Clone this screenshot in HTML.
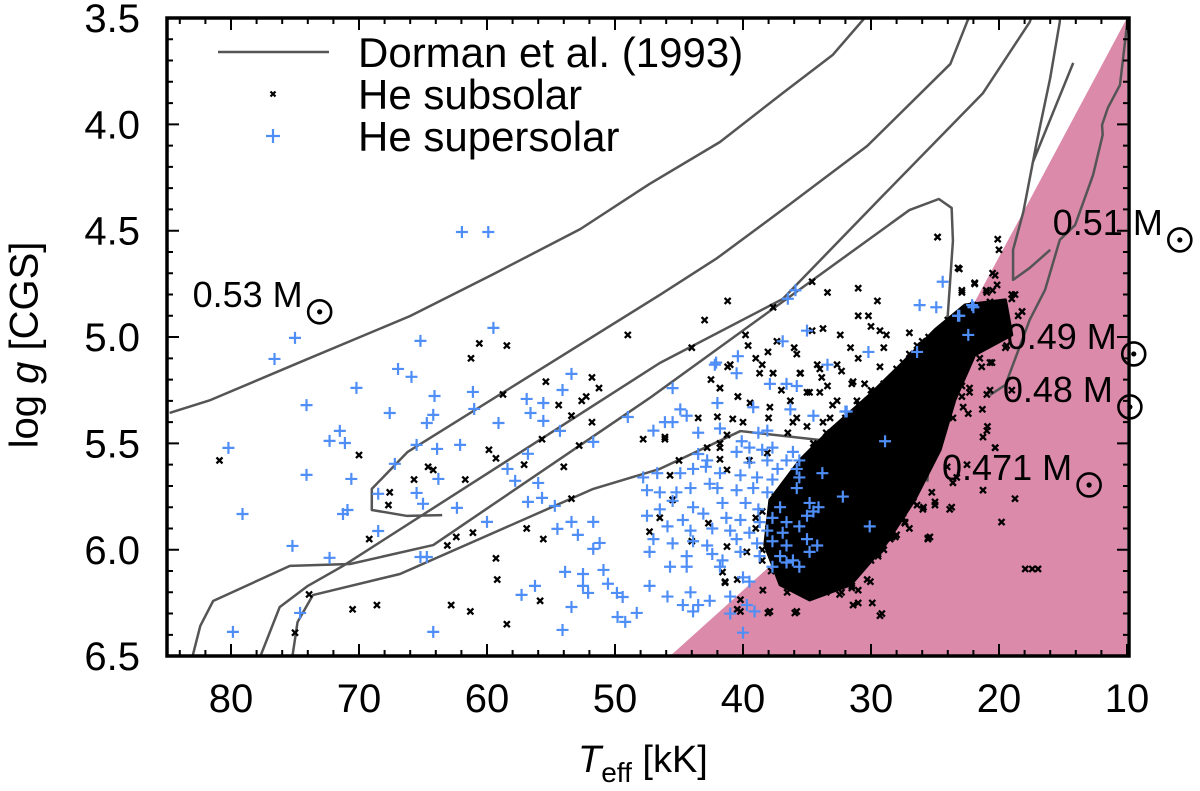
<!DOCTYPE html>
<html><head><meta charset="utf-8"><style>
html,body{margin:0;padding:0;background:#fff;}
svg{display:block;font-family:"Liberation Sans",sans-serif;}
</style></head><body>
<svg id="chart" width="1200" height="791" viewBox="0 0 1200 791" xmlns="http://www.w3.org/2000/svg">
<defs><clipPath id="plotclip"><rect x="167" y="18" width="962" height="638"/></clipPath></defs>
<rect x="0" y="0" width="1200" height="791" fill="#fff"/>
<g id="pinkLayer" clip-path="url(#plotclip)"></g>
<g id="curveLayer" clip-path="url(#plotclip)"></g>
<g id="subLayer" clip-path="url(#plotclip)"></g>
<g id="supLayer" clip-path="url(#plotclip)"></g>
<g id="tickLayer"></g>
<rect x="167" y="18" width="962" height="638" fill="none" stroke="#000" stroke-width="3.5"/>
<g id="labelLayer"></g>
<text x="27" y="345" font-size="40" text-anchor="middle" transform="rotate(-90 27 345)" dominant-baseline="middle">log <tspan font-style="italic">g</tspan> [CGS]</text>
<text x="578" y="772" font-size="38"><tspan font-style="italic">T</tspan><tspan font-size="28" dy="10">eff</tspan><tspan dy="-10"> [kK]</tspan></text>
<g>
<line x1="218" y1="52" x2="329" y2="52" stroke="#555" stroke-width="2.5"/>
<text x="358" y="67" font-size="42">Dorman et al. (1993)</text>
<path d="M270.5 91.5L275.5 96.5M275.5 91.5L270.5 96.5" stroke="#000" stroke-width="2.2"/>
<text x="358" y="109" font-size="42">He subsolar</text>
<path d="M266 136H280M273 129V143" stroke="#4f8ef7" stroke-width="2.2"/>
<text x="358" y="151" font-size="42">He supersolar</text>
</g>
<g id="massLayer"></g>
</svg>
<script>
// ---- data ----
const xTicks = [80,70,60,50,40,30,20,10];
const yTicks = [3.5,4.0,4.5,5.0,5.5,6.0,6.5];
const yTickLabels = ["3.5","4.0","4.5","5.0","5.5","6.0","6.5"];
const excludedT = [45.7,37.1,25.4,18.1,10.0,10.0];
const excludedG = [6.5,6.034,5.225,4.412,3.5,6.5];
const track053 = [[84.8,5.357],[81.6,5.296],[74.4,5.113],[66.0,4.901],[59.5,4.704],[52.7,4.492],[47.3,4.28],[41.8,4.083],[36.9,3.853],[33.0,3.674],[30.5,3.5]];
const track052 = [[63.5,5.837],[66.25,5.841],[69.0,5.813],[69.0,5.714],[66.2,5.54],[46.5,4.802],[42.0,4.628],[36.3,4.374],[30.3,4.102],[23.8,3.716],[22.5,3.519],[22.0,3.45]];
const track051 = [[77.7,6.55],[77.7,6.5],[76.2,6.27],[74.0,6.17],[71.25,6.076],[46.5,5.122],[36.9,4.821],[29.1,4.337],[21.25,3.853],[17.6,3.519],[17.2,3.45]];
const track049 = [[83.3,6.6],[83.0,6.5],[82.4,6.358],[81.4,6.241],[75.4,6.076],[70.7,6.067],[64.2,5.978],[47.3,5.287],[27.0,4.403],[24.7,4.351],[23.7,4.393],[23.6,4.548],[24.0,4.896],[25.0,5.145],[25.6,5.68]];
const track048 = [[75.2,6.55],[75.2,6.5],[74.8,6.34],[73.6,6.213],[66.8,6.114],[51.7,5.714],[46.5,5.62],[40.2,5.442],[34.0,5.484],[30.0,5.6]];
const trackR1a = [[15.25,3.45],[15.25,3.518],[16.0,3.782],[17.05,4.083],[17.35,4.177],[14.2,3.711]];
const trackR1b = [[17.35,4.177],[18.1,4.412],[18.9,4.59],[18.9,4.731],[17.6,4.675],[16.0,4.59]];
const trackR2 = [[9.9,3.45],[10.0,3.533],[10.55,3.815],[11.5,3.923],[11.95,4.003],[11.9,4.05],[12.65,4.238],[14.05,4.473],[15.25,4.543],[16.4,4.778],[17.6,4.919],[19.5,5.225],[20.7,5.272]];
const coreT = [37.9,35.55,33.2,30.1,27.7,25.0,22.65,19.5,19.0,21.9,23.45,24.6,26.6,28.9,31.6,34.8,37.1,38.3];
const coreG = [5.766,5.578,5.437,5.272,5.131,4.966,4.849,4.825,4.99,5.084,5.296,5.53,5.766,5.977,6.165,6.236,6.165,5.977];
const subT = [80.9,70.0,60.6,61.25,58.45,58.75,55.4,51.8,51.25,54.4,53.4,52.6,52.25,51.8,49.0,55.7,52.8,59.85,59.3,57.1,54.0,61.7,65.7,67.6,67.7,64.6,64.2,53.4,56.9,55.6,61.1,63.1,62.4,69.2,59.3,59.2,73.9,70.5,68.6,62.8,61.3,55.85,58.45,75.0,
24.8,20.0,23.1,21.9,22.9,20.5,21.0,31.0,33.4,34.6,29.5,31.0,30.2,41.2,43.0,37.65,33.75,34.6,39.8,37.35,39.6,32.4,31.6,29.3,28.8,27.0,26.4,35.8,38.05,41.0,40.4,41.8,38.7,37.65,35.5,32.3,34.2,33.4,31.4,30.3,36.3,35.0,37.9,35.8,33.2,46.1,41.25,41.8,18.75,18.2,21.3,20.9,20.3,21.25,18.75,19.8,25.55,28.35,29.45,30.05,29.15,31.0,32.3,31.5,34.2,35.8,37.9,40.2,41.4,17.95,17.4,16.95,25.0,23.7,26.7,25.9,25.4,27.35,28.0,23.3,22.5,21.25,22.8,22.9,22.3,20.7,20.7,
41.2,38.5,37.65,35.55,33.85,32.65,31.5,30.5,29.3,41.8,40.4,39.45,34.8,34.0,32.65,31.1,42.0,40.8,36.1,35.0,33.75,31.9,47.8,46.1,41.8,42.8,38.1,33.45,41.8,45.7,41.25,45.5,46.5,42.7,44.0,47.3,41.25,39.7,41.6,40.45,41.4,40.2,40.45,38.05,35.95,38.45,36.55,34.2,32.45,31.5,31.0,31.4,29.9,29.3,30.3,29.45,28.75,28.1,27.35,25.55,26.4,25.95,25.0,23.85,25.25,24.05,23.6,24.4,23.6,25.6,
24.8,20.1,23.2,20.3,22.9,21.9,20.95,20.15,19.0,18.2,20.7,20.1,21.5,20.95,19.4,20.55,21.35,22.3,22.9,22.4,20.95,20.3,20.95,19.0,
36.5,35.5,34.0,33.0,32.0,31.0,30.0,29.0,28.0,27.0,26.0,37.0,36.0,34.5,33.5,32.5,29.5,28.5,27.5,26.5,38.0,37.5,36.5,33.0,31.5,30.5,27.0,24.5,23.5,22.5,21.5,26.5,24.0,22.0,21.0,34.5,33.5,38.5,39.0,37.0,
44.0,42.5,39.0,36.0,34.0,31.0,29.0,28.0,30.0,33.0,38.0,40.0,43.5,45.0,39.5,36.5,34.5,32.0,29.0,27.5,
37.5,38.0,37.5,36.5,35.5,33.5,31.5,30.0,28.5,27.5,26.5,25.8,24.8,24.0,23.0,21.5,19.5,18.5,19.0,20.5,22.0,24.0,25.5,26.5,27.5,28.5,30.0,31.0,32.0,33.5,34.5,35.5,36.5,37.5,38.5,39.0,38.5,37.8,36.0,34.0,32.8,29.0,26.0,24.5,22.0,21.0];
const subG = [5.58,5.555,5.03,5.10,5.04,5.27,5.21,5.19,5.24,5.32,5.37,5.30,5.28,5.40,4.99,5.48,5.51,5.53,5.57,5.60,5.61,5.67,5.67,5.73,5.79,5.61,5.625,5.76,5.90,5.95,5.92,5.98,5.94,5.95,6.04,6.14,6.21,6.28,6.26,6.26,6.29,6.24,6.35,6.39,
4.53,4.59,4.68,4.75,4.78,4.70,4.78,4.77,4.79,4.74,4.83,4.90,4.90,4.83,4.92,4.86,4.96,4.97,4.99,5.02,5.04,4.99,5.05,4.97,4.99,4.98,5.04,5.08,5.07,5.13,5.28,5.24,5.17,5.17,5.17,5.16,5.13,5.23,5.21,5.30,5.30,5.26,5.33,5.38,5.38,5.47,5.46,5.50,4.80,4.88,5.34,5.42,5.52,5.72,5.76,5.87,5.945,5.94,6.02,6.15,6.30,6.25,6.20,6.17,6.16,6.29,6.29,6.29,6.15,6.09,6.09,6.09,5.775,5.80,5.775,5.80,5.94,5.87,5.93,5.66,5.60,5.47,5.33,5.23,5.26,5.12,5.25,
5.14,5.13,5.17,5.17,5.19,5.13,5.22,5.22,5.14,5.24,5.28,5.31,5.26,5.26,5.30,5.30,5.375,5.385,5.40,5.42,5.40,5.40,5.48,5.48,5.52,5.52,5.545,5.58,5.575,5.65,5.625,5.765,5.85,5.875,5.96,5.915,5.985,6.01,6.105,6.14,6.155,6.235,6.28,6.297,6.297,6.19,6.20,6.175,6.21,6.18,6.19,6.26,6.25,6.31,6.14,6.03,5.94,5.94,5.875,5.95,5.79,5.81,5.79,5.81,5.73,5.61,5.685,5.42,5.38,5.45,
4.53,4.54,4.675,4.71,4.79,4.745,4.79,4.755,4.82,4.88,4.835,4.92,4.96,4.99,5.04,5.12,5.14,5.24,5.28,5.36,5.44,5.52,5.27,5.25,
5.72,5.62,5.58,5.50,5.42,5.36,5.30,5.22,5.15,5.08,5.02,5.88,5.78,5.70,5.65,5.55,5.40,5.35,5.28,5.20,5.90,5.98,6.05,6.00,6.08,5.95,5.90,5.05,4.98,4.93,4.90,5.62,5.18,5.05,5.00,5.92,6.06,6.05,5.85,5.25,
5.05,5.20,5.10,5.05,5.15,5.10,5.05,5.20,4.95,5.32,5.38,5.40,5.38,5.58,5.58,5.45,5.50,5.45,5.35,5.30,
5.85,5.95,6.05,6.12,6.18,6.20,6.12,6.05,5.95,5.85,5.70,5.55,5.40,5.25,5.15,5.10,5.05,4.90,4.80,4.78,4.85,4.92,5.00,5.08,5.12,5.20,5.25,5.32,5.38,5.45,5.55,5.60,5.68,5.75,5.82,5.90,6.00,6.10,6.05,6.10,6.05,6.00,5.62,5.33,5.00,4.92];
const supT = [61.96,59.9,59.5,65.2,75.0,76.6,66.95,65.9,70.2,74.1,67.6,64.1,61.1,61.0,64.7,64.2,59.1,56.9,55.6,53.4,54.1,56.6,55.6,54.3,51.7,49.0,71.5,72.3,71.1,80.2,65.5,63.9,62.1,67.2,56.8,58.4,57.8,56.0,74.1,70.6,63.8,68.5,65.5,65.0,62.35,56.8,55.7,54.7,79.1,71.25,70.9,68.5,60.0,54.5,53.4,52.9,51.7,75.2,72.3,65.2,64.7,53.9,52.5,51.7,51.2,50.9,56.25,57.3,53.4,52.5,52.1,50.55,74.6,79.85,64.2,54.1,49.8,49.2,48.3,49.85,49.4,
42.2,40.5,45.5,37.9,36.6,35.8,42.0,39.2,36.3,44.9,44.4,46.1,45.5,34.5,32.0,47.0,43.5,41.8,38.8,38.1,40.1,39.5,38.5,37.7,36.1,28.9,43.5,42.8,40.5,43.9,42.9,39.5,38.1,37.3,36.6,35.6,35.8,47.8,46.7,44.9,41.8,40.2,38.9,37.7,35.6,33.8,47.5,46.5,45.2,44.1,42.6,42.0,40.5,39.2,38.1,35.8,45.5,43.9,41.6,39.8,38.8,37.1,34.8,32.2,34.1,46.5,44.7,43.1,41.3,40.2,38.7,37.7,36.6,35.0,34.5,47.5,45.9,44.1,42.4,41.0,39.5,38.1,36.9,35.6,30.1,47.0,45.5,43.9,42.8,40.5,38.9,37.7,36.6,35.0,34.2,47.3,44.4,42.4,41.6,40.2,38.7,37.1,36.1,34.8,45.7,44.4,41.8,37.7,36.6,35.6,40.0,39.5,41.0,47.3,45.9,44.1,42.6,44.7,43.5,43.9,39.7,41.0,39.1,40.0,
26.2,24.9,22.1,23.1,22.4,26.4,30.2,35.0,36.9,36.5,35.9,33.4,31.9,40.4,42.1,24.4,23.2,22.0];
const supG = [4.506,4.506,4.957,5.018,5.004,5.103,5.15,5.187,5.239,5.32,5.357,5.277,5.258,5.338,5.404,5.366,5.404,5.291,5.31,5.173,5.249,5.357,5.394,5.441,5.493,5.376,5.441,5.488,5.498,5.521,5.507,5.526,5.507,5.596,5.549,5.62,5.676,5.686,5.648,5.667,5.667,5.737,5.733,5.784,5.803,5.775,5.756,5.794,5.832,5.832,5.813,5.912,5.869,5.902,5.869,5.93,5.869,5.982,6.038,6.034,6.034,6.104,6.114,5.996,5.968,6.095,6.17,6.212,6.269,6.17,6.203,6.16,6.297,6.386,6.386,6.377,6.316,6.339,6.297,6.203,6.222,
5.13,5.17,5.24,5.22,5.22,5.23,5.31,5.33,5.34,5.34,5.37,5.40,5.40,5.37,5.35,5.44,5.45,5.43,5.45,5.44,5.49,5.52,5.53,5.52,5.54,5.49,5.55,5.58,5.54,5.62,5.61,5.59,5.58,5.62,5.58,5.58,5.62,5.66,5.64,5.64,5.64,5.65,5.66,5.67,5.66,5.64,5.72,5.73,5.73,5.71,5.69,5.71,5.72,5.71,5.73,5.71,5.77,5.80,5.78,5.78,5.81,5.80,5.78,5.75,5.80,5.81,5.86,5.83,5.85,5.86,5.87,5.85,5.87,5.84,5.82,5.84,5.89,5.91,5.90,5.91,5.92,5.91,5.92,5.89,5.89,5.95,5.97,5.96,5.98,5.95,5.97,5.96,5.98,5.95,5.98,6.01,6.03,6.02,6.05,6.01,6.03,6.03,6.05,6.01,6.08,6.08,6.08,6.08,6.06,6.08,6.13,6.15,6.22,6.17,6.22,6.20,6.24,6.26,6.26,6.29,6.26,6.30,6.29,6.39,
4.85,4.86,4.85,4.90,4.99,5.07,5.07,4.97,5.02,4.82,4.78,5.13,5.35,5.09,5.12,4.74,4.90,4.86];
const massLabels = ["0.53 M","0.51 M","0.49 M","0.48 M","0.471 M"];
const massLabelT = [83.0,15.8,19.4,19.7,24.45];
const massLabelG = [4.858,4.52,5.056,5.305,5.672];

// ---- scales ----
const X = t => 231 + (80 - t) * 12.8;
const Y = g => 18 + (g - 3.5) * 212.7;
const NS = "http://www.w3.org/2000/svg";
function mk(tag, parent){ const e = document.createElementNS(NS, tag); parent.appendChild(e); return e; }

// excluded region
const pink = mk("polygon", document.getElementById("pinkLayer"));
pink.setAttribute("points", excludedT.map((t,i)=>X(t)+","+Y(excludedG[i])).join(" "));
pink.setAttribute("fill", "#db8aa9");



// tracks
const tracks = [["track-0.53",track053],["track-0.52",track052],["track-0.51",track051],["track-0.49",track049],["track-0.48",track048],["track-right-a",trackR1a],["track-right-b",trackR1b],["track-right-c",trackR2]];
const cl = document.getElementById("curveLayer");
tracks.forEach(([nm, pts]) => {
  const p = mk("polyline", cl);
  p.setAttribute("points", pts.map(q => X(q[0]) + "," + Y(q[1])).join(" "));
  p.setAttribute("fill", "none"); p.setAttribute("stroke", "#555"); p.setAttribute("stroke-width", "2.5");
  p.setAttribute("stroke-linejoin", "round");
  
  
});

// subsolar
const sl = document.getElementById("subLayer");
const core = mk("polygon", sl);
core.setAttribute("points", coreT.map((t,i)=>X(t)+","+Y(coreG[i])).join(" "));
core.setAttribute("fill", "#000"); core.setAttribute("stroke", "#000"); core.setAttribute("stroke-width", "3"); core.setAttribute("stroke-linejoin", "round");


subT.forEach((t,i) => {
  const x = X(t), y = Y(subG[i]), s = 3;
  const p = mk("path", sl);
  p.setAttribute("d", `M${x-s} ${y-s}L${x+s} ${y+s}M${x+s} ${y-s}L${x-s} ${y+s}`);
  p.setAttribute("stroke", "#000"); p.setAttribute("stroke-width", "2.3");
  
  
});
// supersolar
const ul = document.getElementById("supLayer");
supT.forEach((t,i) => {
  const x = X(t), y = Y(supG[i]), s = 6;
  const p = mk("path", ul);
  p.setAttribute("d", `M${x-s} ${y}H${x+s}M${x} ${y-s}V${y+s}`);
  p.setAttribute("stroke", "#4f8ef7"); p.setAttribute("stroke-width", "2.2");
  
  
});

// ticks
const tl = document.getElementById("tickLayer");
let d = "";
for (let t = 84; t >= 10; t -= 2) {
  const x = X(t), L = (t % 10 === 0) ? 12 : 6;
  d += `M${x} 656V${656-L}M${x} 18V${18+L}`;
}
for (let k = 35; k <= 65; k++) {
  const g = k / 10, y = Y(g), L = (k % 5 === 0) ? 12 : 6;
  d += `M167 ${y}H${167+L}M1129 ${y}H${1129-L}`;
}
const tp = mk("path", tl);
tp.setAttribute("d", d); tp.setAttribute("stroke", "#000"); tp.setAttribute("stroke-width", "2");



const ll = document.getElementById("labelLayer");
xTicks.forEach(t => {
  const e = mk("text", ll);
  e.setAttribute("x", X(t)); e.setAttribute("y", 712); e.setAttribute("font-size", "40"); e.setAttribute("text-anchor", "middle");
  e.textContent = String(t);
  
  
});
yTicks.forEach((g,i) => {
  const e = mk("text", ll);
  e.setAttribute("x", 140); e.setAttribute("y", Y(g) + 14); e.setAttribute("font-size", "40"); e.setAttribute("text-anchor", "end");
  e.textContent = yTickLabels[i];
  
  
});

// mass labels with sun symbol
const ml = document.getElementById("massLayer");
massLabels.forEach((s,i) => {
  const x = X(massLabelT[i]), y = Y(massLabelG[i]);
  const e = mk("text", ml);
  e.setAttribute("x", x); e.setAttribute("y", y); e.setAttribute("font-size", "36");
  e.textContent = s;
  
  
  const w = e.getComputedTextLength();
  const c = mk("circle", ml);
  c.setAttribute("cx", x + w + 17); c.setAttribute("cy", y + 5); c.setAttribute("r", 11.5);
  c.setAttribute("fill", "none"); c.setAttribute("stroke", "#000"); c.setAttribute("stroke-width", "2.6");
  
  
  const dt = mk("circle", ml);
  dt.setAttribute("cx", x + w + 17); dt.setAttribute("cy", y + 5); dt.setAttribute("r", 2.6);
  
  
});
</script>
</body></html>
